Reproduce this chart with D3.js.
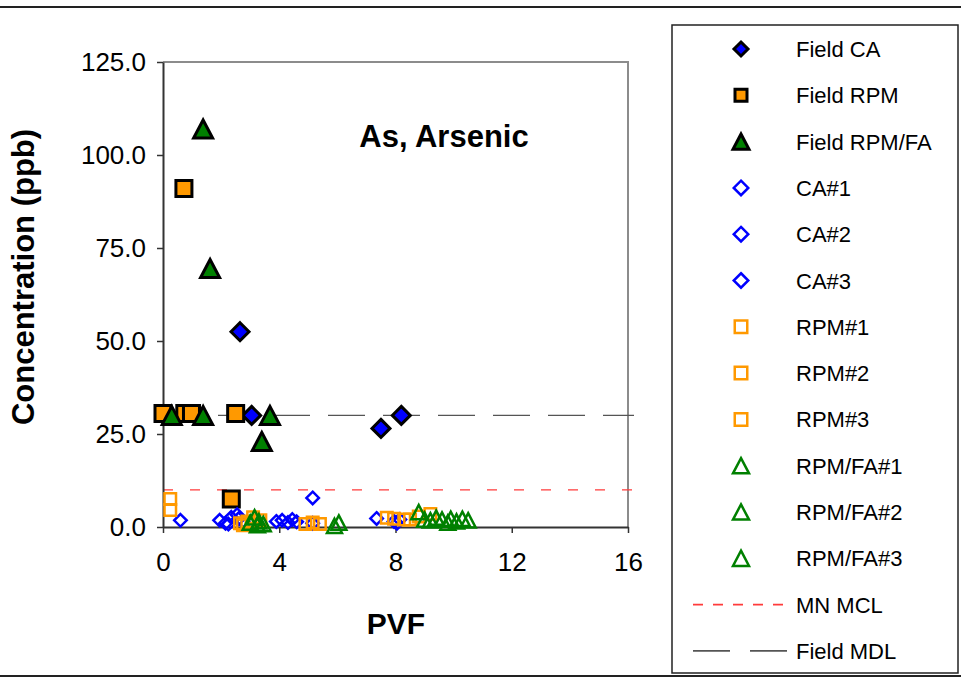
<!DOCTYPE html>
<html>
<head>
<meta charset="utf-8">
<script src="https://cdn.jsdelivr.net/npm/d3@7"></script>
<style>
  html, body { margin: 0; padding: 0; background: #fff; }
  svg { display: block; font-family: "Liberation Sans", Arial, sans-serif; }
</style>
</head>
<body>
<svg id="chart" width="961" height="678"></svg>
<script>
// ---- Data: arsenic concentration (ppb) versus pore volumes of flow (PVF) ----
const fieldCA      = [[2.65, 52.5], [3.05, 30.0], [7.5, 26.5], [8.2, 30.0]];
const fieldRPM     = [[0.0, 30.5], [0.72, 91.0], [0.75, 30.5], [0.98, 30.5], [2.5, 30.5], [2.35, 7.5]];
const fieldRPMFA   = [[1.38, 107.0], [1.62, 69.5], [0.3, 30.0], [1.38, 30.0], [3.68, 30.0], [3.4, 23.0]];

const ca1   = [[0.6, 1.8], [1.95, 1.8], [2.15, 1.0], [2.35, 2.6], [4.1, 1.8], [5.15, 7.8], [7.35, 2.3]];
const ca2   = [[2.55, 3.3], [2.75, 1.5], [3.9, 1.5], [4.3, 1.2], [5.15, 1.0], [7.95, 1.5]];
const ca3   = [[2.25, 0.8], [2.6, 2.2], [4.45, 2.0], [4.6, 1.4], [8.15, 2.0], [8.05, 1.0]];

const rpm1  = [[0.25, 7.5], [0.25, 4.6], [2.65, 1.0], [3.1, 2.6], [4.9, 0.8], [7.7, 2.5]];
const rpm2  = [[2.9, 1.5], [3.35, 1.8], [5.4, 0.8], [7.95, 2.2], [8.5, 2.0]];
const rpm3  = [[2.75, 0.5], [5.15, 1.2], [8.3, 2.0], [8.8, 2.8], [9.2, 3.5]];

const rpmfa1 = [[3.0, 1.2], [3.3, 1.5], [5.9, 0.3], [8.8, 4.0], [9.2, 1.8], [9.9, 2.2]];
const rpmfa2 = [[3.15, 2.6], [3.45, 0.8], [6.05, 1.2], [9.0, 2.0], [9.6, 2.0], [10.5, 1.8]];
const rpmfa3 = [[3.25, 0.5], [9.4, 2.5], [9.8, 1.2], [10.1, 1.5], [10.3, 2.2]];

const mnMCL    = 10;   // ppb
const fieldMDL = 30;   // ppb

const xTicks = [0, 4, 8, 12, 16];
const yTicks = [0, 25, 50, 75, 100, 125];

const chartTitle = "As, Arsenic";
const xTitle = "PVF";
const yTitle = "Concentration (ppb)";

// ---- Marker shapes centred on their bounding box; size = overall width in px ----
const diamond = { draw(ctx, s) { const r = s / 2; ctx.moveTo(0, -r); ctx.lineTo(r, 0); ctx.lineTo(0, r); ctx.lineTo(-r, 0); ctx.closePath(); } };
const square  = { draw(ctx, s) { const r = s / 2; ctx.moveTo(-r, -r); ctx.lineTo(r, -r); ctx.lineTo(r, r); ctx.lineTo(-r, r); ctx.closePath(); } };
const triangle = { draw(ctx, s) { const r = s / 2, h = s * 0.95 / 2; ctx.moveTo(0, -h); ctx.lineTo(r, h); ctx.lineTo(-r, h); ctx.closePath(); } };

const BLUE = "#0000ff", ORANGE = "#ff9900", GREEN = "#008000";

const series = [
  { name: "Field CA",     data: fieldCA,    shape: diamond,  size: 18,   legSize: 14,   fill: BLUE,   stroke: "#000", sw: 3 },
  { name: "Field RPM",    data: fieldRPM,   shape: square,   size: 16,   legSize: 12,   fill: ORANGE, stroke: "#000", sw: 3 },
  { name: "Field RPM/FA", data: fieldRPMFA, shape: triangle, size: 19,   legSize: 16,   fill: GREEN,  stroke: "#000", sw: 3 },
  { name: "CA#1",     data: ca1,    shape: diamond,  size: 12.5, legSize: 14.5, fill: "none", stroke: BLUE,   sw: 2.5 },
  { name: "CA#2",     data: ca2,    shape: diamond,  size: 12.5, legSize: 14.5, fill: "none", stroke: BLUE,   sw: 2.5 },
  { name: "CA#3",     data: ca3,    shape: diamond,  size: 12.5, legSize: 14.5, fill: "none", stroke: BLUE,   sw: 2.5 },
  { name: "RPM#1",    data: rpm1,   shape: square,   size: 11.5, legSize: 12.5, fill: "none", stroke: ORANGE, sw: 2.5 },
  { name: "RPM#2",    data: rpm2,   shape: square,   size: 11.5, legSize: 12.5, fill: "none", stroke: ORANGE, sw: 2.5 },
  { name: "RPM#3",    data: rpm3,   shape: square,   size: 11.5, legSize: 12.5, fill: "none", stroke: ORANGE, sw: 2.5 },
  { name: "RPM/FA#1", data: rpmfa1, shape: triangle, size: 15,   legSize: 16,   fill: "none", stroke: GREEN,  sw: 2.5 },
  { name: "RPM/FA#2", data: rpmfa2, shape: triangle, size: 15,   legSize: 16,   fill: "none", stroke: GREEN,  sw: 2.5 },
  { name: "RPM/FA#3", data: rpmfa3, shape: triangle, size: 15,   legSize: 16,   fill: "none", stroke: GREEN,  sw: 2.5 }
];

const refLines = [
  { name: "MN MCL",    value: mnMCL,    color: "#ff3b3b", width: 1.3, dash: "10,17" },
  { name: "Field MDL", value: fieldMDL, color: "#555555", width: 1.4, dash: "37,18" }
];

// ---- Layout ----
const svg = d3.select("#chart");
const plot = { left: 163, right: 628, top: 62, bottom: 527 };

const x = d3.scaleLinear().domain([0, 16]).range([plot.left, plot.right]);
const y = d3.scaleLinear().domain([0, 125]).range([plot.bottom, plot.top]);

// Page rules above and below
svg.append("line").attr("x1", 0).attr("x2", 961).attr("y1", 7).attr("y2", 7)
  .attr("stroke", "#222").attr("stroke-width", 2);
svg.append("line").attr("x1", 0).attr("x2", 961).attr("y1", 676).attr("y2", 676)
  .attr("stroke", "#222").attr("stroke-width", 2);

// Plot-area frame (top and right in grey)
svg.append("path")
  .attr("d", `M${plot.left},${plot.top}H${plot.right}V${plot.bottom}`)
  .attr("fill", "none").attr("stroke", "#8c8c8c").attr("stroke-width", 2);

// Reference lines
const refG = svg.append("g");
refLines.forEach(r => {
  refG.append("line")
    .attr("x1", x(0)).attr("x2", x(16) + 6)
    .attr("y1", y(r.value)).attr("y2", y(r.value))
    .attr("stroke", r.color).attr("stroke-width", r.width)
    .attr("stroke-dasharray", r.dash);
});

// Axes
const xAxis = d3.axisBottom(x).tickValues(xTicks).tickFormat(d3.format("d"))
  .tickSize(6).tickSizeOuter(0).tickPadding(20);
const yAxis = d3.axisLeft(y).tickValues(yTicks).tickFormat(d3.format(".1f"))
  .tickSize(6).tickSizeOuter(0).tickPadding(11);

const gx = svg.append("g").attr("transform", `translate(0,${plot.bottom})`).call(xAxis);
const gy = svg.append("g").attr("transform", `translate(${plot.left},0)`).call(yAxis);
[gx, gy].forEach(g => {
  g.select(".domain").attr("stroke", "#333").attr("stroke-width", 2);
  g.selectAll(".tick line").attr("stroke", "#333").attr("stroke-width", 1.5);
  g.selectAll(".tick text").attr("fill", "#000")
    .style("font-family", "'Liberation Sans', Arial, sans-serif").style("font-size", "26px");
});

// Markers
series.forEach(s => {
  svg.append("g").selectAll("path").data(s.data).join("path")
    .attr("transform", d => `translate(${x(d[0])},${y(d[1])})`)
    .attr("d", d3.symbol(s.shape, s.size))
    .attr("fill", s.fill).attr("stroke", s.stroke).attr("stroke-width", s.sw)
    .attr("stroke-linejoin", "miter");
});

// Titles
svg.append("text").attr("x", 444).attr("y", 147).attr("text-anchor", "middle")
  .style("font-weight", "bold").style("font-size", "31px").text(chartTitle);
svg.append("text").attr("x", 396).attr("y", 634).attr("text-anchor", "middle")
  .style("font-weight", "bold").style("font-size", "30px").text(xTitle);
svg.append("text").attr("transform", "translate(34,277) rotate(-90)").attr("text-anchor", "middle")
  .style("font-weight", "bold").style("font-size", "31px").text(yTitle);

// Legend
const leg = svg.append("g");
leg.append("rect").attr("x", 672).attr("y", 25).attr("width", 286).attr("height", 648)
  .attr("fill", "#fff").attr("stroke", "#222").attr("stroke-width", 1.5);

const rowY = i => 49 + i * 46.3;
series.forEach((s, i) => {
  leg.append("path").attr("transform", `translate(741,${rowY(i)})`)
    .attr("d", d3.symbol(s.shape, s.legSize))
    .attr("fill", s.fill).attr("stroke", s.stroke).attr("stroke-width", s.sw);
  leg.append("text").attr("x", 796).attr("y", rowY(i) + 8)
    .style("font-size", "22px").text(s.name);
});
refLines.forEach((r, j) => {
  const yy = rowY(series.length + j);
  leg.append("line").attr("x1", 693).attr("x2", 789).attr("y1", yy).attr("y2", yy)
    .attr("stroke", r.color).attr("stroke-width", r.width + 0.3)
    .attr("stroke-dasharray", j === 0 ? "10,10" : "37,20");
  leg.append("text").attr("x", 796).attr("y", yy + 8)
    .style("font-size", "22px").text(r.name);
});
</script>
</body>
</html>
